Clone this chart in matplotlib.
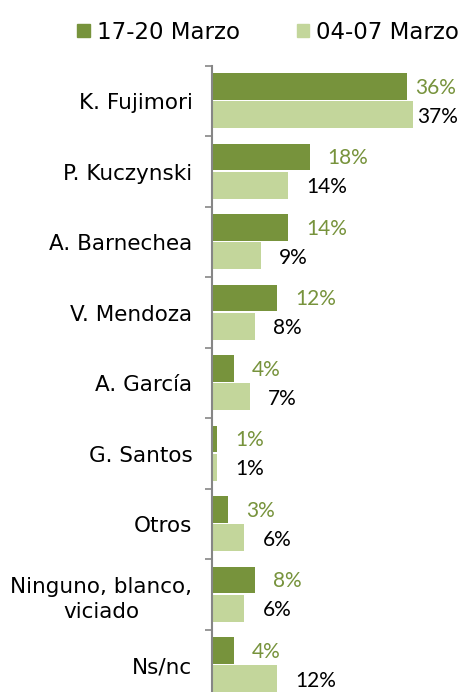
import numpy as np
import matplotlib
matplotlib.use("Agg")
import matplotlib.pyplot as plt
from matplotlib.patches import Patch

# Datos de la encuesta
candidatos = ["K. Fujimori", "P. Kuczynski", "A. Barnechea", "V. Mendoza",
              "A. García", "G. Santos", "Otros", "Ninguno, blanco,\nviciado", "Ns/nc"]
marzo_17_20 = [36, 18, 14, 12, 4, 1, 3, 8, 4]
marzo_04_07 = [37, 14, 9, 8, 7, 1, 6, 6, 12]
series = ["17-20 Marzo", "04-07 Marzo"]

verde_oscuro = "#77933C"
verde_claro = "#C3D69B"

fig = plt.figure(figsize=(4.72, 6.92), dpi=100)
ax = fig.add_axes([0.449, -0.0123, 0.46, 0.917])

y = np.arange(len(candidatos))
alto = 0.38
ax.barh(y - 0.21, marzo_17_20, height=alto, color=verde_oscuro)
ax.barh(y + 0.19, marzo_04_07, height=alto, color=verde_claro)

# Etiquetas de porcentaje (se recortan al borde derecho como en Excel)
for i in range(len(candidatos)):
    ax.text(min(marzo_17_20[i] + 3.3, 37.4), y[i] - 0.19, f"{marzo_17_20[i]}%",
            va="center", ha="left", fontsize=15, color=verde_oscuro, family="Lato")
    ax.text(min(marzo_04_07[i] + 3.3, 37.9), y[i] + 0.22, f"{marzo_04_07[i]}%",
            va="center", ha="left", fontsize=15, color="black", family="Lato")

ax.set_xlim(0, 40)
ax.set_ylim(len(candidatos) - 0.5, -0.5)

# Eje vertical con marcas entre categorías
ax.set_yticks(np.arange(len(candidatos) + 1) - 0.5)
ax.set_yticklabels([])
ax.set_yticks(y, minor=True)
ax.set_yticklabels(candidatos, minor=True, fontsize=15.5)
ax.tick_params(axis="y", which="major", length=5, color="#868686", width=1.2)
ax.tick_params(axis="y", which="minor", length=0, pad=14)
for lbl in ax.get_yticklabels(minor=True):
    lbl.set_multialignment("center")
    lbl.set_linespacing(1.3)

ax.set_xticks([])
for lado in ["top", "right", "bottom"]:
    ax.spines[lado].set_visible(False)
ax.spines["left"].set_color("#868686")
ax.spines["left"].set_linewidth(1.5)

handles = [Patch(color=verde_oscuro), Patch(color=verde_claro)]
fig.legend(handles, series, loc="upper center", bbox_to_anchor=(0.568, 1.0), ncol=2,
           frameon=False, fontsize=16.5, handlelength=0.55, handleheight=0.55,
           handletextpad=0.3, columnspacing=2.5)

fig.savefig("out.png", dpi=100)
